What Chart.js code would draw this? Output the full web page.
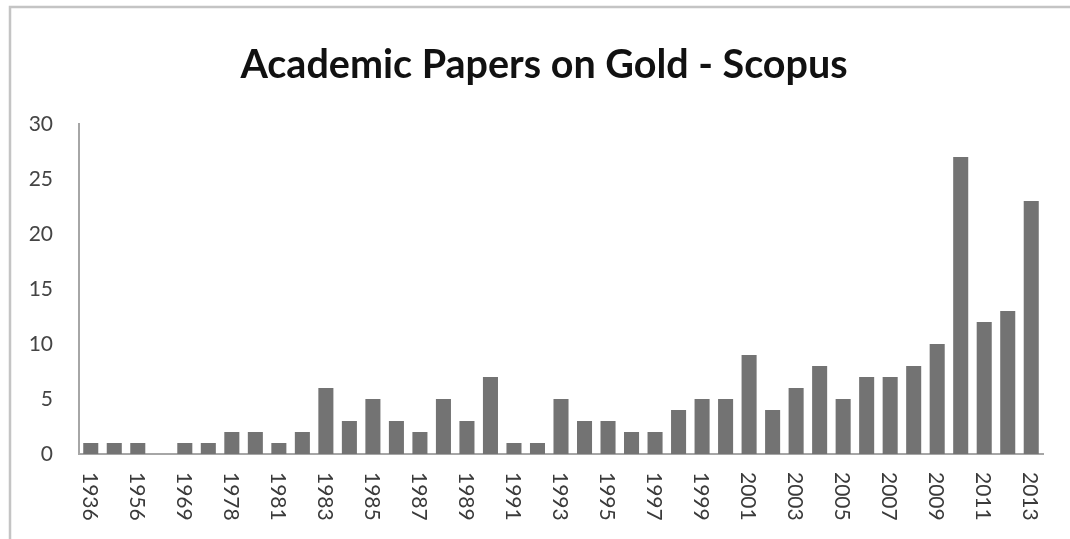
<!DOCTYPE html>
<html>
<head>
<meta charset="utf-8">
<script src="https://cdn.jsdelivr.net/npm/chart.js@4"></script>
<style>
html,body{margin:0;padding:0;background:#fff;}
#wrap{position:absolute;left:0;top:0;width:1070px;height:539px;}
</style>
</head>
<body>
<div id="wrap"><canvas id="c" width="1070" height="539"></canvas></div>
<script>
const chartTitle = "Academic Papers on Gold - Scopus";
const years = ["1936","1952","1956","1965","1969","1975","1978","1979","1981","1982","1983","1984","1985","1986","1987","1988","1989","1990","1991","1992","1993","1994","1995","1996","1997","1998","1999","2000","2001","2002","2003","2004","2005","2006","2007","2008","2009","2010","2011","2012","2013"];
const papers = [1,1,1,0,1,1,2,2,1,2,6,3,5,3,2,5,3,7,1,1,5,3,3,2,2,4,5,5,9,4,6,8,5,7,7,8,10,27,12,13,23];
const yTicks = [0,5,10,15,20,25,30];

const FONT = "Lato, 'Open Sans', sans-serif";

const frame = {
  id: 'frame',
  beforeDraw(chart) {
    const ctx = chart.ctx;
    ctx.save();
    ctx.strokeStyle = '#c4c4c4';
    ctx.lineWidth = 2.5;
    ctx.beginPath();
    ctx.moveTo(10, chart.height);
    ctx.lineTo(10, 7);
    ctx.lineTo(chart.width, 7);
    ctx.stroke();
    ctx.restore();
  }
};

const xLabels = {
  id: 'xLabels',
  afterDraw(chart) {
    const ctx = chart.ctx;
    const sx = chart.scales.x;
    ctx.save();
    ctx.fillStyle = '#3a3a3a';
    ctx.font = '21px ' + FONT;
    ctx.textAlign = 'left';
    ctx.textBaseline = 'middle';
    years.forEach((lab, i) => {
      if (i % 2 !== 0) return;
      const x = sx.getPixelForValue(i) - 1;
      ctx.save();
      ctx.translate(x, sx.top + 18);
      ctx.rotate(Math.PI / 2);
      ctx.fillText(lab, 0, 0);
      ctx.restore();
    });
    ctx.restore();
  }
};

new Chart(document.getElementById('c'), {
  type: 'bar',
  data: {
    labels: years,
    datasets: [{
      data: papers,
      backgroundColor: '#737373',
      borderWidth: 0,
      categoryPercentage: 1.0,
      barPercentage: 0.64
    }]
  },
  options: {
    responsive: false,
    animation: false,
    layout: { padding: { top: 0, right: -18, bottom: 0, left: 0 } },
    plugins: {
      legend: { display: false },
      tooltip: { enabled: false },
      title: {
        display: true,
        text: chartTitle,
        color: '#111',
        font: { family: FONT, size: 39.5, weight: 'bold', lineHeight: 1.2 },
        padding: { top: 42, bottom: 34.6 }
      }
    },
    scales: {
      x: {
        grid: { display: false, drawTicks: false },
        border: { display: true, color: '#a6a6a6', width: 2 },
        ticks: { display: false },
        afterFit(s) { s.height = 85; }
      },
      y: {
        min: 0, max: 30,
        afterBuildTicks(s) { s.ticks = yTicks.map(v => ({ value: v })); },
        grid: { display: false, drawTicks: false },
        border: { display: true, color: '#a6a6a6', width: 2 },
        ticks: { color: '#444', font: { family: FONT, size: 21 }, padding: 26 },
        afterFit(s) { s.width = 79; }
      },
      yPad: {
        position: 'right',
        min: 0, max: 30,
        grid: { display: false, drawTicks: false },
        border: { display: false },
        ticks: { display: false },
        afterFit(s) { s.width = 45; }
      }
    }
  },
  plugins: [frame, xLabels]
});
</script>
</body>
</html>
